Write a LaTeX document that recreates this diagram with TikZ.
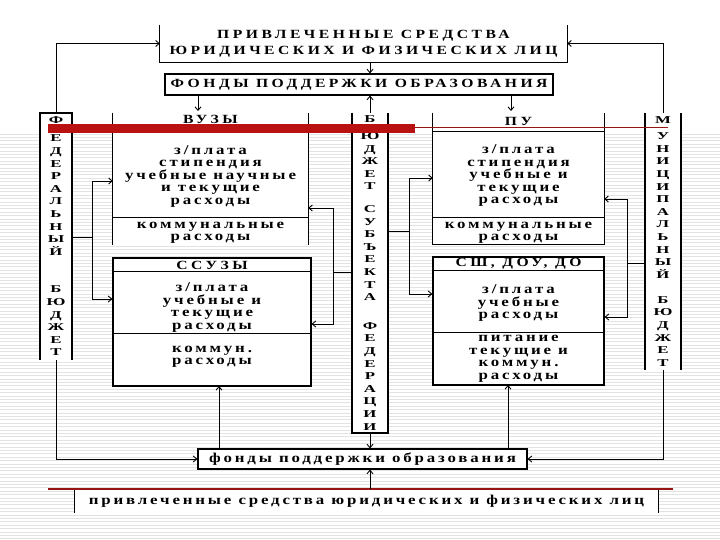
\documentclass[tikz,border=0pt]{standalone}
\usepackage{fontspec}
\setmainfont{Liberation Serif}
\newfontfamily\capsserif[FakeStretch=1.25, LetterSpace=28]{Liberation Serif}
\newfontfamily\lowserif[FakeStretch=1.25, LetterSpace=21]{Liberation Serif}
\newfontfamily\colserif[FakeStretch=1.6]{Liberation Serif}
\usetikzlibrary{arrows.meta}
\newcommand\boxfont{\lowserif\bfseries\fontsize{13.5}{12.5}\selectfont}
\newcommand\titlefont{\capsserif\bfseries\fontsize{12.5}{16}\selectfont}
\newcommand\colfont{\colserif\bfseries\fontsize{10.5}{12.6}\selectfont}
\definecolor{barred}{RGB}{185,18,18}
\definecolor{linered}{RGB}{150,20,20}

\begin{document}
\begin{tikzpicture}[
    x=1pt, y=-1pt,
    frame/.style={draw, line width=1.2pt, fill=white, inner sep=0pt},
    openframe/.style={fill=white, inner sep=0pt},
    column/.style={fill=white, inner sep=0pt, align=center, font=\colfont},
    txt/.style={font=\boxfont, align=center, inner sep=0pt},
    ttl/.style={font=\titlefont, align=center, inner sep=0pt},
    rim/.style={line width=1.2pt},
    colrim/.style={line width=1.6pt},
    link/.style={line width=0.9pt},
    arr/.style={link, -{Straight Barb[length=3.5pt, width=6pt]}},
    stripe/.style={black!11, line width=0.6pt}
]

% --- фон ---
\useasboundingbox (0,0) rectangle (720,540);
\fill[white] (0,0) rectangle (720,540);
\foreach \yy in {134,137.4,...,540}
    \draw[stripe] (0,\yy) -- (720,\yy);

% --- бюджеты ---
\node[column, minimum width=32, minimum height=247] (fedb) at (56,236.5)
    {Ф\\[5.5pt]Е\\Д\\Е\\Р\\А\\Л\\Ь\\Н\\Ы\\Й\\[25pt]Б\\Ю\\Д\\Ж\\Е\\Т};
\node[column, minimum width=36, minimum height=320] (bsub) at (370,273)
    {Б\\[4pt]Ю\\Д\\Ж\\Е\\Т\\[10pt]С\\У\\Б\\Ъ\\Е\\К\\Т\\А\\[16pt]Ф\\Е\\Д\\Е\\Р\\А\\Ц\\И\\И};
\node[column, minimum width=36, minimum height=257] (mun) at (663,241.5)
    {М\\[3.5pt]У\\Н\\И\\Ц\\И\\П\\А\\Л\\Ь\\Н\\Ы\\Й\\[12.5pt]Б\\Ю\\Д\\Ж\\Е\\Т};
\draw[colrim] (fedb.south west) |- (fedb.north east) -- (fedb.south east);
\draw[colrim] (bsub.north west) |- (bsub.south east) -- (bsub.north east);
\draw[colrim] (mun.north west) -- (mun.south west) (mun.north east) -- (mun.south east);

% --- верхние блоки ---
\node[openframe, ttl, minimum width=407, minimum height=37] (src) at (363.5,43.5)
    {ПРИВЛЕЧЕННЫЕ СРЕДСТВА\\ЮРИДИЧЕСКИХ И ФИЗИЧЕСКИХ ЛИЦ};
\draw[rim] (src.north west) |- (src.south east) -- (src.north east);
\node[frame, ttl, minimum width=388, minimum height=21] (fond) at (359,84.5)
    {ФОНДЫ ПОДДЕРЖКИ ОБРАЗОВАНИЯ};

% --- ВУЗЫ ---
\node[openframe, minimum width=195, minimum height=132] (vuz) at (210.5,179) {};
\draw[rim] (vuz.north west) -- (vuz.south west) (vuz.north east) -- (vuz.south east);
\draw[rim] ([yshift=-19pt]vuz.north west) -- ([yshift=-19pt]vuz.north east);
\draw[rim] ([yshift=-105pt]vuz.north west) -- ([yshift=-105pt]vuz.north east);
\node[ttl] (vuzT) at (210.5,119) {ВУЗЫ};
\node[txt] (vuzC) at (210.5,176) {з/плата\\стипендия\\учебные научные\\и текущие\\расходы};
\node[txt] (vuzB) at (210.5,233) {коммунальные\\расходы};

% --- ПУ ---
\node[openframe, minimum width=171, minimum height=131] (pu) at (518.5,178.5) {};
\draw[rim] (pu.north west) |- (pu.south east) -- (pu.north east);
\draw[rim] ([yshift=-19pt]pu.north west) -- ([yshift=-19pt]pu.north east);
\draw[rim] ([yshift=-105pt]pu.north west) -- ([yshift=-105pt]pu.north east);
\node[ttl] (puT) at (518.5,121) {ПУ};
\node[txt] (puC) at (518.5,175.5) {з/плата\\стипендия\\учебные и\\текущие\\расходы};
\node[txt] (puB) at (518.5,233) {коммунальные\\расходы};

% --- ССУЗЫ ---
\node[frame, minimum width=198, minimum height=128] (ssuz) at (212,322) {};
\draw[rim] ([yshift=-14pt]ssuz.north west) -- ([yshift=-14pt]ssuz.north east);
\draw[rim] ([yshift=-76pt]ssuz.north west) -- ([yshift=-76pt]ssuz.north east);
\node[ttl] (ssuzT) at (212,265) {ССУЗЫ};
\node[txt] (ssuzC) at (212,307.5) {з/плата\\учебные и\\текущие\\расходы};
\node[txt] (ssuzB) at (212,357) {коммун.\\расходы};

% --- СШ, ДОУ, ДО ---
\node[frame, minimum width=171, minimum height=128] (sch) at (518.5,321) {};
\draw[rim] ([yshift=-14pt]sch.north west) -- ([yshift=-14pt]sch.north east);
\draw[rim] ([yshift=-76pt]sch.north west) -- ([yshift=-76pt]sch.north east);
\node[ttl] (schT) at (518.5,264) {СШ, ДОУ, ДО};
\node[txt] (schC) at (518.5,303) {з/плата\\учебные\\расходы};
\node[txt] (schB) at (518.5,359) {питание\\текущие и\\коммун.\\расходы};

% --- нижние блоки ---
\node[frame, txt, minimum width=329, minimum height=20] (bfond) at (362.5,459)
    {фонды поддержки образования};
\node[openframe, txt, minimum width=583, minimum height=24] (bsrc) at (366.5,501)
    {привлеченные средства юридических и физических лиц};
\draw[rim] (bsrc.north west) -- (bsrc.south west) (bsrc.north east) -- (bsrc.south east);

% --- красные линии ---
\fill[barred] (48,124) rectangle (415,133);
\draw[linered, line width=1pt] (415,128) -- (668,128);
\draw[linered, line width=1.5pt] (48,489) -- (673,489);

% --- стрелки сверху ---
\draw[arr] (src.south -| bsub) -- (fond.north -| bsub);
\draw[arr] (fedb.north) |- (src.west);
\draw[arr] (mun.north) |- (src.east);
\draw[arr] (bsub.north) -- (fond.south -| bsub);
\coordinate (toVuz) at (198,111);
\coordinate (toPu) at (511,111);
\draw[arr] (fond.south -| toVuz) -- (toVuz);
\draw[arr] (fond.south -| toPu) -- (toPu);

% --- стрелки от бюджетов ---
\coordinate (fedJ) at (92,237);
\coordinate (fedV) at (92,181);
\coordinate (fedS) at (92,299);
\draw[arr] (fedb.east |- fedJ) -| (fedV) -- (fedV -| vuz.west);
\draw[arr] (fedJ) |- (fedS -| ssuz.west);

\coordinate (subJ) at (333,272);
\coordinate (subV) at (333,208);
\coordinate (subS) at (333,324);
\draw[arr] (bsub.west |- subJ) -| (subV) -- (subV -| vuz.east);
\draw[arr] (subJ) |- (subS -| ssuz.east);

\coordinate (subK) at (409,231);
\coordinate (subP) at (409,178);
\coordinate (subH) at (409,294);
\draw[arr] (bsub.east |- subK) -| (subP) -- (subP -| pu.west);
\draw[arr] (subK) |- (subH -| sch.west);

\coordinate (munJ) at (627,263);
\coordinate (munP) at (627,199);
\coordinate (munS) at (627,317);
\draw[arr] (mun.west |- munJ) -| (munP) -- (munP -| pu.east);
\draw[arr] (munJ) |- (munS -| sch.east);

% --- стрелки снизу ---
\draw[arr] (fedb.south) |- (bfond.west);
\draw[arr] (mun.south) |- (bfond.east);
\draw[arr] (bsub.south) -- (bfond.north -| bsub);
\coordinate (upSsuz) at (219,386);
\coordinate (upSch) at (508,385);
\draw[arr] (bfond.north -| upSsuz) -- (upSsuz);
\draw[arr] (bfond.north -| upSch) -- (upSch);
\draw[arr] (bsrc.north -| bsub) -- (bfond.south -| bsub);

\end{tikzpicture}
\end{document}
